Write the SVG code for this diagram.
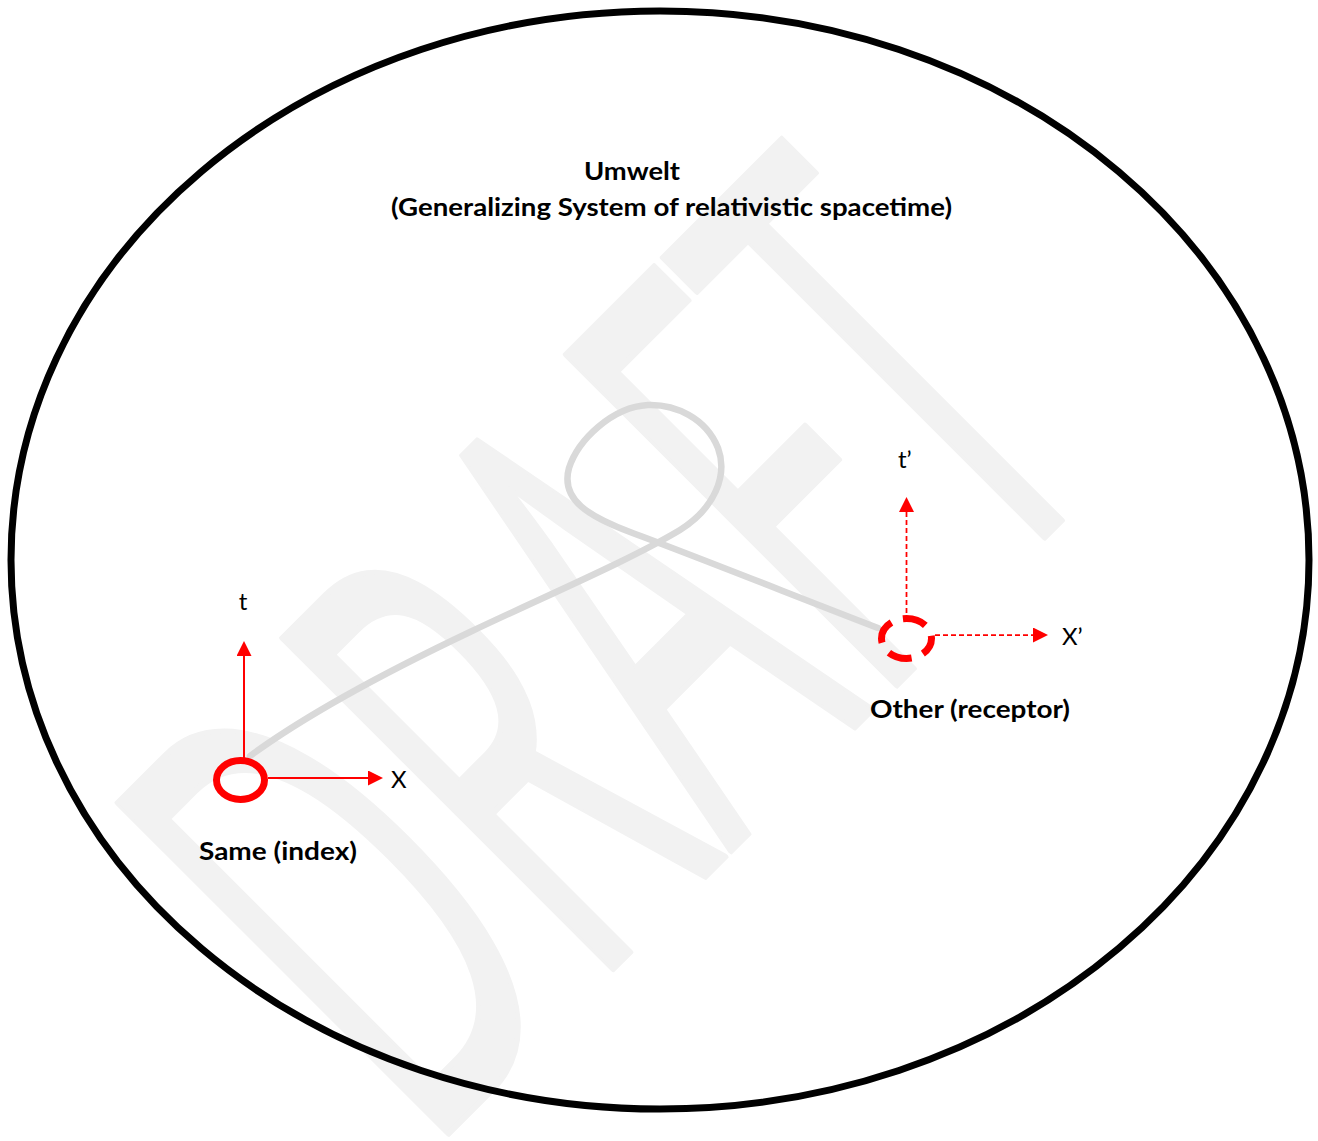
<svg xmlns="http://www.w3.org/2000/svg" width="1318" height="1141" viewBox="0 0 1318 1141">
<defs>
<style>
.wm{font-family:"Open Sans","Noto Sans","Liberation Sans",sans-serif;font-weight:400;fill:#f2f2f2;stroke:#f2f2f2;stroke-width:6;stroke-linejoin:round}
.bold{font-family:Lato,"Open Sans","Liberation Sans",sans-serif;font-weight:700;fill:#000;font-size:25px}
.lab{font-family:Lato,"Open Sans","Liberation Sans",sans-serif;font-weight:400;fill:#000;font-size:24px}
.axis{stroke:#ff0000;stroke-width:2;fill:none}
.dash{stroke:#ff0000;stroke-width:1.75;fill:none;stroke-dasharray:5 3}
.path{stroke:#d9d9d9;stroke-width:6.5;fill:none;stroke-linecap:round}
</style>
<marker id="arr" viewBox="0 0 15 15" refX="0" refY="7.5" markerWidth="15" markerHeight="15" markerUnits="userSpaceOnUse" orient="auto">
<path d="M0,0 L15,7.5 L0,15 Z" fill="#ff0000"/>
</marker>
</defs>
<rect width="1318" height="1141" fill="#fff"/>
<g id="watermark">
<text class="wm" font-size="655" text-anchor="middle" transform="translate(770.5,811.5) rotate(-45) scale(0.49,1)">DRAFT</text>
</g>
<g id="umwelt">
<ellipse cx="660" cy="560" rx="649" ry="549" fill="none" stroke="#000" stroke-width="7"/>
<text class="bold" x="632" y="180" text-anchor="middle" textLength="96" lengthAdjust="spacingAndGlyphs">Umwelt</text>
<text class="bold" x="671.5" y="216" text-anchor="middle" textLength="561" lengthAdjust="spacingAndGlyphs">(Generalizing System of relativistic spacetime)</text>
</g>
<g id="connectors">
<path class="path" d="M250,756 C310,712 390,670 470,632 C550,594 630,560 680,530 C715,508 728,475 718,448 C706,418 675,404 648,405 C612,407 578,440 569,468 C560,500 590,517 630,532 C700,558 800,598 878,628"/>
</g>
<g id="same">
<line class="axis" x1="244" y1="758" x2="244" y2="656" marker-end="url(#arr)"/>
<line class="axis" x1="268" y1="778" x2="368" y2="778" marker-end="url(#arr)"/>
<ellipse cx="240.5" cy="780" rx="24" ry="19.5" fill="none" stroke="#ff0000" stroke-width="7"/>
<text class="lab" x="243" y="610" text-anchor="middle">t</text>
<text class="lab" x="391" y="788">X</text>
<text class="bold" x="278" y="860" text-anchor="middle" textLength="158" lengthAdjust="spacingAndGlyphs">Same (index)</text>
</g>
<g id="other">
<line class="dash" x1="906.5" y1="613" x2="906.5" y2="512" marker-end="url(#arr)"/>
<line class="dash" x1="935" y1="635" x2="1033" y2="635" marker-end="url(#arr)"/>
<ellipse cx="906.5" cy="638.5" rx="25" ry="20" fill="none" stroke="#ff0000" stroke-width="7" stroke-dasharray="24 12" stroke-dashoffset="6"/>
<text class="lab" x="898" y="468">t’</text>
<text class="lab" x="1062" y="645">X’</text>
<text class="bold" x="970" y="718" text-anchor="middle" textLength="200" lengthAdjust="spacingAndGlyphs">Other (receptor)</text>
</g>
</svg>
